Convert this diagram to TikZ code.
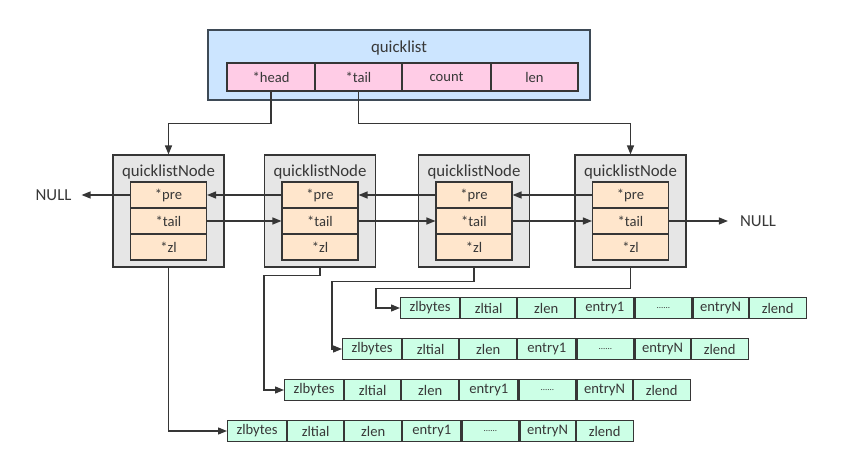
\documentclass[tikz,border=0pt]{standalone}
\usepackage{fontspec}
\setmainfont{Carlito}
\usetikzlibrary{arrows.meta}

\definecolor{qlblue}{HTML}{CCE5FF}
\definecolor{qlpink}{HTML}{FFCCE6}
\definecolor{nodegray}{HTML}{E6E6E6}
\definecolor{slotpeach}{HTML}{FFE6CC}
\definecolor{zlmint}{HTML}{CCFFE6}
\definecolor{edge}{HTML}{363636}
\definecolor{ink}{HTML}{383838}
\definecolor{frame}{HTML}{3E4A56}

\begin{document}
\begin{tikzpicture}[x=1pt,y=-1pt,
  every node/.style={text=ink},
  titlefont/.style={font=\fontsize{16.8}{18}\selectfont},
  cellfont/.style={font=\fontsize{14.6}{16}\selectfont},
  qlbox/.style={draw=frame, fill=qlblue, line width=1.2pt, inner sep=0pt,
    minimum width=382pt, minimum height=70pt},
  field/.style={draw=edge, fill=qlpink, line width=1.1pt, inner sep=0pt,
    minimum height=28pt, cellfont},
  nodebox/.style={draw=edge, fill=nodegray, line width=1.1pt, inner sep=0pt,
    minimum width=111pt, minimum height=112pt},
  slot/.style={draw=edge, fill=slotpeach, line width=1.1pt, inner sep=0pt,
    minimum width=76pt, minimum height=26pt, cellfont},
  zcell/.style={draw=edge, fill=zlmint, line width=1.1pt, inner sep=0pt,
    minimum height=21.5pt, anchor=west, cellfont},
  arr/.style={draw=edge, line width=1.3pt, -{Triangle[length=9pt,width=7pt]}},
  nulltext/.style={titlefont, inner ysep=0pt}
]
\useasboundingbox (0,0) rectangle (848,462);

% quicklist header structure
\node[qlbox] (qlist) at (399,65) {};
\node[titlefont] (qtitle) at (399,48) {quicklist};
\node[field, minimum width=88pt] (qhead)  at (271,77)   {*head};
\node[field, minimum width=87pt] (qtail)  at (358.5,77) {*tail};
\node[field, minimum width=89pt] (qcount) at (446.5,77) {count};
\node[field, minimum width=87pt] (qlen)   at (534.5,77) {len};

% quicklistNode boxes with their three pointer slots
\foreach \i/\x in {1/168.5,2/320,3/474,4/630.5}{
  \node[nodebox] (box\i) at (\x,211) {};
  \node[titlefont] (name\i) at (\x,172) {quicklistNode};
  \node[slot] (pre\i) at (\x,195) {*pre};
  \node[slot] (nxt\i) at (\x,221) {*tail};
  \node[slot] (zl\i)  at (\x,247) {*zl};
}

% NULL ends of the list
\node[nulltext, inner xsep=10pt] (nullL) at (53.5,195) {NULL};
\node[nulltext, inner xsep=12pt] (nullR) at (758,221) {NULL};

% ziplist rows
\foreach \r/\x/\y in {1/400/308,2/342/349,3/284/390,4/227/431}{
  \node[zcell, minimum width=59pt] (r\r-1) at (\x,\y) {zlbytes};
  \node[zcell, minimum width=56pt] (r\r-2) at (r\r-1.east) {zltial};
  \node[zcell, minimum width=57pt] (r\r-3) at (r\r-2.east) {zlen};
  \node[zcell, minimum width=58pt] (r\r-4) at (r\r-3.east) {entry1};
  \node[zcell, minimum width=57pt] (r\r-5) at (r\r-4.east) {\fontsize{9}{10}\selectfont ......};
  \node[zcell, minimum width=55pt] (r\r-6) at (r\r-5.east) {entryN};
  \node[zcell, minimum width=57pt] (r\r-7) at (r\r-6.east) {zlend};
}

% head / tail pointers of the quicklist
\draw[arr] (qhead.south) -- ++(0,32) -| (box1.north);
\draw[arr] (qtail.south) -- ++(0,32) -| (box4.north);

% prev links
\draw[arr] (pre1.west) -- (nullL.east);
\draw[arr] (pre2.west) -- (pre1.east);
\draw[arr] (pre3.west) -- (pre2.east);
\draw[arr] (pre4.west) -- (pre3.east);

% next links
\draw[arr] (nxt1.east) -- (nxt2.west);
\draw[arr] (nxt2.east) -- (nxt3.west);
\draw[arr] (nxt3.east) -- (nxt4.west);
\draw[arr] (nxt4.east) -- (nullR.west);

% zl pointers to the ziplists
\draw[arr] (box1.south) |- (r4-1.west);
\draw[arr] (box2.south) -- ++(0,8)  -| ([xshift=-20pt]r3-1.west) -- (r3-1.west);
\draw[arr] (box3.south) -- ++(0,14) -| ([xshift=-10pt]r2-1.west) -- (r2-1.west);
\draw[arr] (box4.south) -- ++(0,21) -| ([xshift=-24pt]r1-1.west) -- (r1-1.west);
\end{tikzpicture}
\end{document}
